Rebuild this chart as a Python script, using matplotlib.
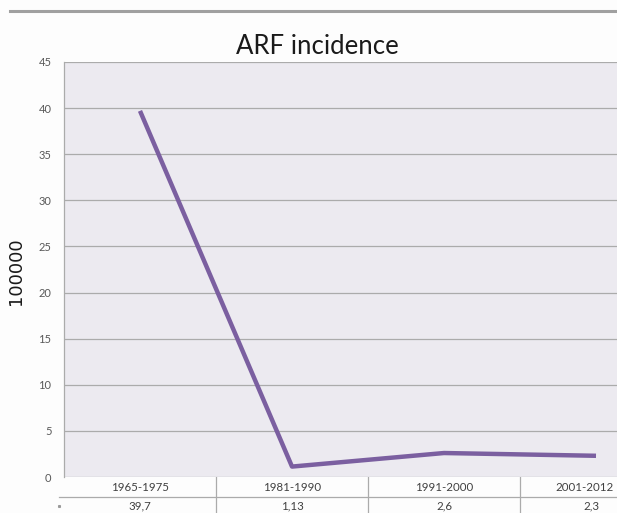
import matplotlib
matplotlib.use("Agg")
import matplotlib.pyplot as plt
from matplotlib.lines import Line2D

categories = ["1965-1975", "1981-1990", "1991-2000", "2001-2012"]
values = [39.7, 1.13, 2.6, 2.3]
value_labels = ["39,7", "1,13", "2,6", "2,3"]
yticks = [0, 5, 10, 15, 20, 25, 30, 35, 40, 45]

W, H = 617, 513
fig = plt.figure(figsize=(W / 100, H / 100), dpi=100)
fig.patch.set_facecolor("#FDFDFD")

font = ["Lato", "DejaVu Sans"]

# main plot area
x0, x1 = 64, 672
ytop, ybot = 62, 477
ax = fig.add_axes([x0 / W, (H - ybot) / H, (x1 - x0) / W, (ybot - ytop) / H])
ax.set_facecolor("#ECEAF0")
xs = list(range(len(categories)))
ax.plot(xs, values, color="#7B5FA0", lw=3.2, solid_capstyle="butt", zorder=3)
ax.set_xlim(-0.5, len(categories) - 0.5)
ax.set_ylim(0, 45)
ax.set_yticks(yticks)
ax.set_yticklabels([str(t) for t in yticks], fontsize=8, color="#595959", family=font)
ax.tick_params(axis="y", length=0, pad=9)
ax.set_xticks([])
ax.grid(axis="y", color="#ABABAB", lw=0.9)
ax.set_axisbelow(True)
for s in ["top", "right", "bottom"]:
    ax.spines[s].set_visible(False)
ax.spines["left"].set_color("#ABABAB")
ax.spines["left"].set_linewidth(0.9)

# data table below
tb_top, tb_bot = 477, 517
tax = fig.add_axes([x0 / W, (H - tb_bot) / H, (x1 - x0) / W, (tb_bot - tb_top) / H])
tax.set_xlim(-0.5, len(categories) - 0.5)
tax.set_ylim(2, 0)
tax.axis("off")
tax.plot([-0.535, 3.5], [1, 1], color="#ABABAB", lw=0.9, clip_on=False)
for b in [0.5, 1.5, 2.5]:
    tax.plot([b, b], [0, 2], color="#ABABAB", lw=0.9)
last = len(categories) - 1
for i, (c, v) in enumerate(zip(categories, value_labels)):
    if i == last:
        tax.text(3.115, 0.52, c, ha="right", va="center", fontsize=8.3, color="#404040", family=font)
        tax.text(2.97, 1.45, v, ha="center", va="center", fontsize=8.3, color="#404040", family=font)
    else:
        tax.text(i, 0.52, c, ha="center", va="center", fontsize=8.3, color="#404040", family=font)
        tax.text(i, 1.45, v, ha="center", va="center", fontsize=8.3, color="#404040", family=font)
tax.plot([-0.53], [1.45], marker="s", ms=1.2, color="#9A9A9A", clip_on=False)

# title and y label
fig.text(317 / W, 1 - 46 / H, "ARF incidence", ha="center", va="center",
         fontsize=18.5, color="#1A1A1A", family=font)
fig.text(16 / W, 1 - 271 / H, "100000", ha="center", va="center",
         rotation=90, fontsize=13, color="#1A1A1A", family=["DejaVu Sans"])

# top gray rule
fig.add_artist(Line2D([10 / W, 1], [1 - 11 / H, 1 - 11 / H], color="#A0A0A0", lw=2.2,
                      transform=fig.transFigure))

fig.savefig("out.png", dpi=100, facecolor=fig.get_facecolor())
